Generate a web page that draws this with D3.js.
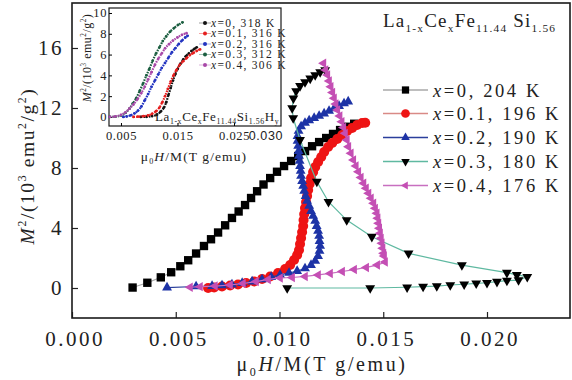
<!DOCTYPE html>
<html>
<head>
<meta charset="utf-8">
<script src="https://cdn.jsdelivr.net/npm/d3@7"></script>
<style>
    body { margin: 0; background: #fff; }
    svg { display: block; font-family: "Liberation Serif", "Times New Roman", serif; }
</style>
</head>
<body>
<div id="chart"></div>
<script>
// ---- main plot data: [muH/M, M^2 (10^3 emu^2/g^2)] ----
const compositions = ["0", "0.1", "0.2", "0.3", "0.4"];
const mainTemps = [204, 196, 190, 180, 176];
const insetTemps = [318, 316, 316, 312, 306];

const mainX0 = [[0.00292,0.03],[0.00363,0.35],[0.00428,0.71],[0.00478,1.05],[0.00522,1.45],[0.0056,1.85],[0.00598,2.3],
    [0.00636,2.8],[0.0067,3.25],[0.00704,3.7],[0.00738,4.18],[0.00771,4.67],[0.00803,5.1],[0.00834,5.53],[0.00863,6.0],
    [0.00892,6.45],[0.00923,6.9],[0.00955,7.33],[0.00988,7.75],[0.01022,8.13],[0.01056,8.47],[0.0109,8.8],[0.01123,9.13],
    [0.01157,9.45],[0.01191,9.73],[0.01225,10.0],[0.01258,10.27],[0.01292,10.53],[0.01326,10.75],[0.0136,10.95]];

const mainX1 = [[0.00656,0.0],[0.00685,0.03],[0.00723,0.1],[0.00762,0.17],[0.008,0.23],[0.00839,0.33],[0.00878,0.43],
    [0.00916,0.6],[0.00955,0.77],[0.00993,1.0],[0.01027,1.27],[0.01051,1.53],[0.0107,1.87],[0.01085,2.2],[0.01094,2.53],
    [0.01099,2.93],[0.01104,3.33],[0.01109,3.73],[0.01114,4.13],[0.01116,4.53],[0.01119,4.93],[0.01123,5.33],[0.01128,5.73],
    [0.01133,6.13],[0.01138,6.53],[0.01145,6.93],[0.01152,7.33],[0.01162,7.73],[0.01172,8.07],[0.01186,8.4],[0.01201,8.73],
    [0.01215,9.07],[0.01234,9.4],[0.01254,9.67],[0.01278,9.93],[0.01302,10.2],[0.01326,10.47],[0.0135,10.67],[0.01374,10.87],
    [0.01398,11.0],[0.01413,11.02]];

const mainX2 = [[0.00458,0.03],[0.00598,0.1],[0.00675,0.13],[0.00723,0.17],[0.00771,0.23],[0.0082,0.33],[0.00868,0.43],
    [0.00916,0.57],[0.0096,0.73],[0.01003,0.87],[0.01046,1.0],[0.01085,1.13],[0.01123,1.3],[0.01152,1.53],[0.01172,1.8],
    [0.01186,2.13],[0.01193,2.47],[0.01196,2.8],[0.01193,3.13],[0.01191,3.47],[0.01186,3.8],[0.01179,4.13],[0.01172,4.47],
    [0.01162,4.8],[0.01152,5.13],[0.01143,5.47],[0.01133,5.8],[0.01126,6.13],[0.01119,6.47],[0.01114,6.8],[0.01109,7.13],
    [0.01104,7.47],[0.01102,7.8],[0.01099,8.13],[0.01097,8.47],[0.01094,8.8],[0.01092,9.13],[0.0109,9.47],[0.01087,9.8],
    [0.01087,10.13],[0.01092,10.47],[0.01104,10.77],[0.01123,11.0],[0.01143,11.17],[0.01167,11.33],[0.01191,11.47],
    [0.01215,11.63],[0.01239,11.8],[0.01263,11.97],[0.01287,12.13],[0.01311,12.3],[0.01331,12.43]];

const mainX3 = [[0.01037,0.0],[0.01437,0.0],[0.01615,0.05],[0.01692,0.09],[0.01758,0.13],[0.01823,0.2],[0.0189,0.25],
    [0.01948,0.31],[0.02,0.35],[0.02048,0.42],[0.02096,0.49],[0.02152,0.53],[0.02194,0.75],[0.02144,0.87],[0.02096,1.02],
    [0.01879,1.53],[0.01622,2.31],[0.01445,3.42],[0.01324,4.53],[0.01236,5.75],[0.0118,7.09],[0.01099,9.87],[0.01066,11.33],
    [0.01061,12.0],[0.01067,12.65],[0.0108,13.13],[0.01099,13.47],[0.01123,13.73],[0.01148,13.97],[0.01172,14.2],
    [0.01196,14.4],[0.0122,14.53]];

const mainX4 = [[0.00569,0.05],[0.00617,0.09],[0.00689,0.13],[0.00762,0.2],[0.00824,0.3],[0.00887,0.43],[0.00945,0.57],
    [0.01003,0.67],[0.01061,0.7],[0.01123,0.77],[0.01186,0.87],[0.01244,0.97],[0.01302,1.1],[0.0136,1.23],[0.01418,1.37],
    [0.01471,1.53],[0.01509,1.73],[0.01504,2.13],[0.01501,2.31],[0.01497,2.65],[0.01493,2.98],[0.01489,3.31],[0.01485,3.65],
    [0.01481,3.98],[0.01477,4.31],[0.01473,4.65],[0.01469,4.98],[0.01461,5.31],[0.01453,5.65],[0.01441,5.98],[0.01429,6.31],
    [0.01417,6.65],[0.01405,6.98],[0.01392,7.37],[0.0138,7.75],[0.01368,8.13],[0.01356,8.53],[0.01344,8.98],[0.01332,9.42],
    [0.01325,9.87],[0.01316,10.31],[0.01308,10.7],[0.013,11.09],[0.0129,11.47],[0.01279,11.87],[0.01271,12.27],
    [0.01263,12.65],[0.01255,13.03],[0.01247,13.42],[0.01239,13.8],[0.01231,14.2],[0.01222,14.53],[0.01212,14.98]];

// ---- inset data (hydrides) ----
const insetX0 = [[0.0085,0],[0.0095,0.02],[0.0105,0.08],[0.0113,0.2],[0.012,0.5],[0.0126,0.9],[0.013,1.4],[0.0134,2.1],
    [0.0138,2.8],[0.0142,3.5],[0.0146,4.1],[0.015,4.6],[0.0155,5.1],[0.016,5.5],[0.0165,5.85],[0.017,6.1],[0.0175,6.35],
    [0.018,6.55],[0.0184,6.7]];
const insetX1 = [[0.0072,0],[0.008,0.03],[0.009,0.08],[0.0098,0.15],[0.0105,0.3],[0.0112,0.55],[0.0118,0.9],[0.0123,1.4],
    [0.0128,2.0],[0.0133,2.7],[0.0138,3.4],[0.0143,4.0],[0.0148,4.5],[0.0154,5.0],[0.016,5.35],[0.0166,5.65],[0.0172,5.95],
    [0.0178,6.15],[0.0184,6.35],[0.019,6.5]];
const insetX2 = [[0.0054,0],[0.006,0.05],[0.0067,0.15],[0.0074,0.35],[0.008,0.6],[0.0086,1.0],[0.0092,1.6],[0.0098,2.2],
    [0.0104,2.9],[0.011,3.5],[0.0116,4.1],[0.0122,4.7],[0.0128,5.2],[0.0134,5.7],[0.014,6.2],[0.0146,6.6],[0.0152,7.0],
    [0.0158,7.35],[0.0164,7.65],[0.0168,7.8]];
const insetX3 = [[0.003,0],[0.004,0.03],[0.005,0.15],[0.0058,0.4],[0.0065,0.8],[0.0071,1.3],[0.0077,1.8],[0.0083,2.5],
    [0.0089,3.2],[0.0095,4.0],[0.01,4.6],[0.0106,5.4],[0.0112,6.1],[0.0118,6.7],[0.0124,7.3],[0.013,7.75],[0.0137,8.2],
    [0.0144,8.55],[0.0151,8.85],[0.0159,9.1]];
const insetX4 = [[0.003,0],[0.004,0.05],[0.005,0.2],[0.0058,0.45],[0.0065,0.8],[0.0072,1.2],[0.0079,1.7],[0.0086,2.3],
    [0.0092,2.9],[0.0098,3.6],[0.0104,4.3],[0.011,5.0],[0.0116,5.6],[0.0122,6.1],[0.0128,6.6],[0.0135,7.0],[0.0142,7.35],
    [0.015,7.65],[0.0158,7.9],[0.0166,8.05]];

const xTicks = [0, 0.005, 0.010, 0.015, 0.020];
const yTicks = [0, 4, 8, 12, 16];
const insetXTicks = [0.005, 0.015, 0.025];
const insetYTicks = [0, 2, 4, 6, 8, 10];

// builds a text made of normal / italic / sub / sup parts
function richText(textSel, parts, size) {
    let shift = 0;
    parts.forEach(([str, kind]) => {
        let target = 0, fs = size;
        if (kind === "sub") { target = size * 0.25; fs = size * 0.6; }
        if (kind === "sup") { target = -size * 0.4; fs = size * 0.6; }
        const ts = textSel.append("tspan").text(str).attr("font-size", fs);
        if (target !== shift) ts.attr("dy", target - shift);
        if (kind === "i") ts.attr("font-style", "italic");
        shift = target;
    });
}

class ArrottPlot {
    constructor(parentElement) {
        let vis = this;
        vis.parentElement = parentElement;
        vis.margin = { top: 3, right: 2, bottom: 62, left: 72 };
        vis.width = 572 - vis.margin.left - vis.margin.right;
        vis.height = 380 - vis.margin.top - vis.margin.bottom;

        vis.series = [
            { data: mainX0, shape: d3.symbolSquare, rot: 0, size: 70, fill: "#000", line: "#a9a9a9" },
            { data: mainX1, shape: d3.symbolCircle, rot: 0, size: 80, fill: "#ee1414", line: "#d98a86" },
            { data: mainX2, shape: d3.symbolTriangle, rot: 0, size: 42, fill: "#1d33a6", line: "#2b3f9c" },
            { data: mainX3, shape: d3.symbolTriangle, rot: 180, size: 42, fill: "#000", line: "#5fb9a1" },
            { data: mainX4, shape: d3.symbolTriangle, rot: -90, size: 38, fill: "#c44fb4", line: "#c86fc0" }
        ];
        vis.insetSeries = [
            { data: insetX0, color: "#111" },
            { data: insetX1, color: "#e51e1e" },
            { data: insetX2, color: "#2233c0" },
            { data: insetX3, color: "#1b5e40" },
            { data: insetX4, color: "#a848a8" }
        ];
        vis.initVis();
    }

    initVis() {
        let vis = this;
        vis.svg = d3.select("#" + vis.parentElement).append("svg")
            .attr("width", 572).attr("height", 380);
        vis.g = vis.svg.append("g")
            .attr("transform", `translate(${vis.margin.left},${vis.margin.top})`);

        vis.x = d3.scaleLinear().domain([0, 0.024]).range([0, vis.width]);
        vis.y = d3.scaleLinear().domain([-2, 19]).range([vis.height, 0]);

        vis.drawAxes();
        vis.drawSeries();
        vis.drawLegend();
        vis.drawInset();
        vis.drawTitle();
    }

    drawAxes() {
        let vis = this;
        const xAxis = d3.axisBottom(vis.x).tickValues(xTicks).tickFormat(d3.format(".3f"))
            .tickSizeInner(-6).tickSizeOuter(0).tickPadding(13);
        const yAxis = d3.axisLeft(vis.y).tickValues(yTicks)
            .tickSizeInner(-6).tickSizeOuter(0).tickPadding(8);

        const gx = vis.g.append("g").attr("transform", `translate(0,${vis.height})`).call(xAxis);
        const gy = vis.g.append("g").call(yAxis);
        [gx, gy].forEach(a => {
            a.select(".domain").remove();
            a.selectAll(".tick line").attr("stroke", "#222").attr("stroke-width", 1.2);
            a.selectAll("text").attr("font-size", 21).attr("fill", "#222")
                .attr("font-family", "Liberation Serif").attr("letter-spacing", 2.5);
        });
        gx.selectAll("text").attr("dx", 2.5);

        vis.g.append("rect")
            .attr("width", vis.width).attr("height", vis.height)
            .attr("fill", "none").attr("stroke", "#1a1a1a").attr("stroke-width", 1.6);

        // axis titles
        const xt = vis.svg.append("text").attr("x", 322).attr("y", 371)
            .attr("text-anchor", "middle").attr("fill", "#222").attr("letter-spacing", 2.6);
        richText(xt, [["μ", "n"], ["0", "sub"], ["H", "i"], ["/M(T g/emu)", "n"]], 20);

        const yt = vis.svg.append("text").attr("transform", "translate(34,166) rotate(-90)")
            .attr("text-anchor", "middle").attr("fill", "#222").attr("letter-spacing", 1.6);
        richText(yt, [["M", "i"], ["2", "sup"], ["/(10", "n"], ["3", "sup"], [" emu", "n"], ["2", "sup"],
            ["/g", "n"], ["2", "sup"], [")", "n"]], 19.5);
    }

    drawSeries() {
        let vis = this;
        const line = d3.line().x(d => vis.x(d[0])).y(d => vis.y(d[1]));
        vis.series.forEach(s => {
            vis.g.append("path").datum(s.data)
                .attr("d", line).attr("fill", "none")
                .attr("stroke", s.line).attr("stroke-width", 1.2);
            vis.g.append("g").selectAll("path")
                .data(s.data).join("path")
                .attr("d", d3.symbol().type(s.shape).size(s.size))
                .attr("transform", d => `translate(${vis.x(d[0])},${vis.y(d[1])}) rotate(${s.rot})`)
                .attr("fill", s.fill);
        });
    }

    drawLegend() {
        let vis = this;
        const rows = [90, 113.5, 137.5, 161.5, 185.5];
        const lg = vis.svg.append("g");
        vis.series.forEach((s, i) => {
            const row = lg.append("g").attr("transform", `translate(383,${rows[i]})`);
            row.append("line").attr("x1", 0).attr("x2", 45)
                .attr("stroke", s.line).attr("stroke-width", 1.3);
            row.append("path")
                .attr("d", d3.symbol().type(s.shape).size(s.size * 0.75))
                .attr("transform", `translate(22.5,0) rotate(${s.rot})`)
                .attr("fill", s.fill);
            const t = row.append("text").attr("x", 50).attr("y", 6.5)
                .attr("fill", "#222").attr("letter-spacing", 2.6);
            richText(t, [["x", "i"], [`=${compositions[i]}, ${mainTemps[i]} K`, "n"]], 18.5);
        });
    }

    drawInset() {
        let vis = this;
        const ix = { left: 109, top: 8, w: 172, h: 118 };
        const inset = vis.svg.append("g").attr("transform", `translate(${ix.left},${ix.top})`);
        const x = d3.scaleLinear().domain([0.00288, 0.03332]).range([0, ix.w]);
        const y = d3.scaleLinear().domain([-0.87, 10.48]).range([ix.h, 0]);

        inset.append("rect").attr("width", ix.w).attr("height", ix.h)
            .attr("fill", "#fff").attr("stroke", "#1a1a1a").attr("stroke-width", 1.2);

        const gx = inset.append("g").attr("transform", `translate(0,${ix.h})`)
            .call(d3.axisBottom(x).tickValues(insetXTicks).tickFormat(d3.format(".3f"))
                .tickSizeInner(-3).tickSizeOuter(0).tickPadding(5));
        const gy = inset.append("g")
            .call(d3.axisLeft(y).tickValues(insetYTicks).tickSizeInner(-3).tickSizeOuter(0).tickPadding(2));
        [gx, gy].forEach(a => {
            a.select(".domain").remove();
            a.selectAll("text").attr("font-size", 12.5).attr("fill", "#222")
                .attr("font-family", "Liberation Serif").attr("letter-spacing", 0.6);
        });
        // end label of the inset x axis
        gx.append("text").attr("x", ix.w + 2).attr("y", 5).attr("dy", "0.71em")
            .attr("text-anchor", "end").attr("font-size", 12.5).attr("fill", "#222")
            .attr("letter-spacing", 0.6).text("0.030");

        const line = d3.line().curve(d3.curveMonotoneX).x(d => x(d[0])).y(d => y(d[1]));
        vis.insetSeries.forEach(s => {
            inset.append("path").datum(s.data).attr("d", line)
                .attr("fill", "none").attr("stroke", s.color).attr("stroke-width", 2.2)
                .attr("stroke-dasharray", "1.6 1.1");
            inset.append("g").selectAll("circle").data(s.data).join("circle")
                .attr("cx", d => x(d[0])).attr("cy", d => y(d[1])).attr("r", 1.4)
                .attr("fill", s.color);
        });

        // inset legend
        const rows = [23, 33.5, 44, 54.5, 65];
        vis.insetSeries.forEach((s, i) => {
            const r = inset.append("g").attr("transform", `translate(${90},${rows[i] - ix.top})`);
            r.append("line").attr("x1", 0).attr("x2", 12).attr("stroke", s.color)
                .attr("stroke-width", 0.8).attr("opacity", 0.5);
            r.append("circle").attr("cx", 6).attr("r", 2).attr("fill", s.color);
            const t = r.append("text").attr("x", 12).attr("y", 3.8).attr("fill", "#222")
                .attr("letter-spacing", 1.3);
            richText(t, [["x", "i"], [`=${compositions[i]}, ${insetTemps[i]} K`, "n"]], 11.5);
        });

        const lab = inset.append("text").attr("x", 46).attr("y", 113).attr("fill", "#222")
            .attr("letter-spacing", 0.6);
        richText(lab, [["La", "n"], ["1-x", "sub"], ["Ce", "n"], ["x", "sub"], ["Fe", "n"], ["11.44", "sub"],
            ["Si", "n"], ["1.56", "sub"], ["H", "n"], ["y", "sub"]], 13);

        const xl = vis.svg.append("text").attr("x", 194).attr("y", 161)
            .attr("text-anchor", "middle").attr("fill", "#222").attr("letter-spacing", 1.1);
        richText(xl, [["μ", "n"], ["0", "sub"], ["H", "i"], ["/M(T g/emu)", "n"]], 13.5);

        const yl = vis.svg.append("text").attr("transform", "translate(91,58) rotate(-90)")
            .attr("text-anchor", "middle").attr("fill", "#222").attr("letter-spacing", 0.5);
        richText(yl, [["M", "i"], ["2", "sup"], ["/(10", "n"], ["3", "sup"], [" emu", "n"], ["2", "sup"],
            ["/g", "n"], ["2", "sup"], [")", "n"]], 12);
    }

    drawTitle() {
        let vis = this;
        const t = vis.svg.append("text").attr("x", 383).attr("y", 27)
            .attr("fill", "#222").attr("letter-spacing", 1.2);
        richText(t, [["La", "n"], ["1-x", "sub"], ["Ce", "n"], ["x", "sub"], ["Fe", "n"], ["11.44", "sub"],
            [" Si", "n"], ["1.56", "sub"]], 19);
    }
}

new ArrottPlot("chart");
</script>
</body>
</html>
